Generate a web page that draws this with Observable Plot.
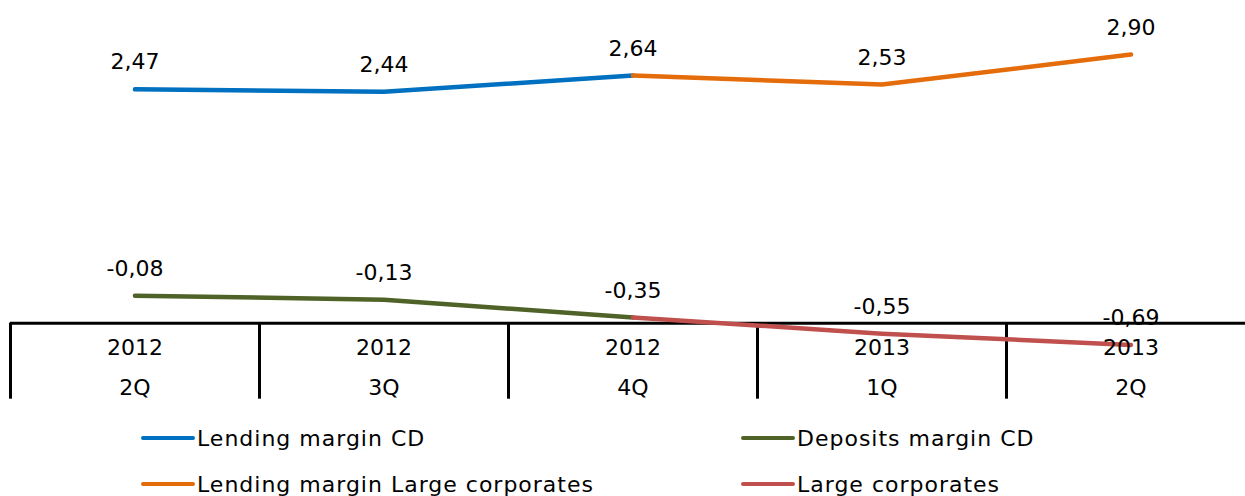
<!DOCTYPE html>
<html>
<head>
<meta charset="utf-8">
<script src="https://cdn.jsdelivr.net/npm/d3@7"></script>
<script src="https://cdn.jsdelivr.net/npm/@observablehq/plot@0.6"></script>
<style>
  html, body { margin: 0; padding: 0; background: #fff; }
  #wrap { position: relative; width: 1245px; height: 496px; overflow: hidden; font-family: "DejaVu Sans", sans-serif; }
  #legend { position: absolute; left: 0; top: 410px; width: 1245px; height: 86px; }
  .item { position: absolute; display: flex; align-items: center; font-size: 22px; letter-spacing: 1px; color: #000; white-space: nowrap; }
  .sw { width: 54px; height: 4px; border-radius: 2px; margin-right: 2px; }
</style>
</head>
<body>
<div id="wrap"><div id="chart"></div><div id="legend"></div></div>
<script>
const years = ["2012", "2012", "2012", "2013", "2013"];
const quarters = ["2Q", "3Q", "4Q", "1Q", "2Q"];
const seriesNames = ["Lending margin CD", "Deposits margin CD", "Lending margin Large corporates", "Large corporates"];
const seriesColors = ["#0070C0", "#4F6228", "#E46C0A", "#C0504D"];
const lendingCD = [2.47, 2.44, 2.64, null, null];
const depositsCD = [-0.08, -0.13, -0.35, null, null];
const lendingLC = [null, null, 2.64, 2.53, 2.90];
const largeCorp = [null, null, -0.35, -0.55, -0.69];
const axisCross = -0.42;

const seriesValues = [lendingCD, depositsCD, lendingLC, largeCorp];
const lineData = [];
seriesValues.forEach((vals, s) => vals.forEach((v, i) => {
  if (v != null) lineData.push({series: seriesNames[s], i: i + 0.5, v});
}));
const labelData = [];
for (let i = 0; i < years.length; i++) {
  const top = lendingCD[i] ?? lendingLC[i];
  const bot = depositsCD[i] ?? largeCorp[i];
  labelData.push({i: i + 0.5, v: top});
  labelData.push({i: i + 0.5, v: bot});
}
const catData = years.map((y, i) => ({i: i + 0.5, year: y, q: quarters[i]}));
const fmt = v => v.toFixed(2).replace(".", ",");

const chart = Plot.plot({
  width: 1245,
  height: 410,
  marginTop: 46,
  marginBottom: 0,
  marginLeft: 10,
  marginRight: 0,
  style: {fontFamily: "DejaVu Sans, sans-serif", fontSize: "22px", color: "#000", background: "#fff"},
  x: {type: "linear", domain: [0, 5], range: [10, 1255], axis: null},
  y: {domain: [-1.5, 3.0], axis: null},
  color: {domain: seriesNames, range: seriesColors},
  marks: [
    Plot.ruleX([0, 1, 2, 3, 4, 5], {x: d => d, y1: axisCross, y2: -1.36, stroke: "#000", strokeWidth: 3}),
    Plot.ruleY([axisCross], {x1: 0, x2: 5, stroke: "#000", strokeWidth: 3}),
    ...seriesNames.map(name => Plot.line(lineData.filter(d => d.series === name), {
      x: "i", y: "v", stroke: "series", strokeWidth: 4.5, strokeLinecap: "round", strokeLinejoin: "round"
    })),
    Plot.text(labelData, {x: "i", y: "v", text: d => fmt(d.v), dy: -27, fill: "#000", fontSize: 22}),
    Plot.text(catData, {x: "i", y: axisCross, text: "year", dy: 25, fill: "#000", fontSize: 22}),
    Plot.text(catData, {x: "i", y: axisCross, text: "q", dy: 65, fill: "#000", fontSize: 22})
  ]
});
document.getElementById("chart").appendChild(chart);

const legend = document.getElementById("legend");
const pos = [[141, 28], [741, 28], [141, 74], [741, 74]];
seriesNames.forEach((name, k) => {
  const it = document.createElement("div");
  it.className = "item";
  it.style.left = pos[k][0] + "px";
  it.style.top = (pos[k][1] - 13) + "px";
  it.style.height = "26px";
  const sw = document.createElement("div");
  sw.className = "sw";
  sw.style.background = seriesColors[k];
  const tx = document.createElement("span");
  tx.textContent = name;
  it.appendChild(sw); it.appendChild(tx);
  legend.appendChild(it);
});
</script>
</body>
</html>
